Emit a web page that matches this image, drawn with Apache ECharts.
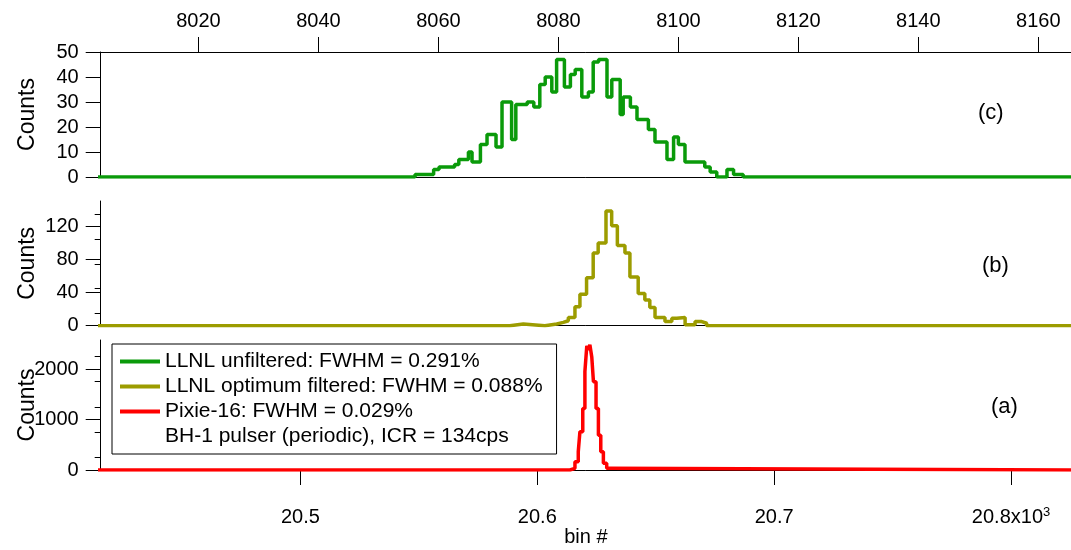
<!DOCTYPE html>
<html>
<head>
<meta charset="utf-8">
<script src="https://cdn.jsdelivr.net/npm/echarts@6/dist/echarts.min.js"></script>
<style>
html,body{margin:0;padding:0;background:#fff;}
#chart{width:1071px;height:550px;}
</style>
</head>
<body>
<div id="chart"></div>
<script>
// ---- data (x = left edge of each step) ----
// (c) LLNL unfiltered, top axis (bin #)
var binC = [8000, 8056.1, 8059.2, 8060.1, 8062.7, 8063.4, 8065.0, 8065.6, 8067.0, 8068.1, 8069.6, 8070.6, 8072.2, 8072.9,
    8074.8, 8075.9, 8076.9, 8077.8, 8078.9, 8079.7, 8081.0, 8082.0, 8082.8, 8083.9, 8085.0, 8085.8, 8086.7, 8088.1,
    8088.9, 8090.3, 8090.8, 8092.0, 8093.1, 8095.0, 8096.1, 8098.1, 8099.2, 8100.0, 8101.1, 8104.4, 8105.3, 8106.4,
    8108.1, 8109.2, 8110.8, 8170];
var countsC = [0, 1, 3, 4, 5, 7, 10, 6, 13, 17, 12, 30, 15, 29,
    30, 28, 37, 40, 34, 47, 36, 41, 43, 32, 34, 46, 47, 32,
    39, 25, 32, 28, 23, 19, 14, 7, 16, 13, 6, 4, 2, 0,
    3, 1, 0, 0];

// (b) LLNL optimum filtered, bottom axis
var binB = [20400, 20588.4, 20594.1, 20603.2, 20608.2, 20611.0, 20613.1, 20615.9, 20618.0, 20620.8, 20623.6, 20625.7,
    20629.0, 20631.4, 20633.8, 20637.0, 20639.1, 20642.6, 20645.4, 20647.5, 20649.7, 20653.9, 20656.8, 20658.9,
    20662.4, 20666.6, 20669.4, 20671.5, 20830];
var countsB = [0, 2, 0, 2, 4, 6, 10, 23, 38, 58, 88, 100,
    139, 121, 97, 88, 59, 39, 31, 22, 10, 5, 9, 10,
    1, 5, 3, 0, 0];

// (a) Pixie-16, bottom axis
var binA = [20400, 20613.8, 20615.9, 20617.3, 20618.0, 20619.2, 20620.1, 20620.9, 20621.6, 20622.2, 20623.0, 20623.7,
    20624.8, 20625.8, 20626.8, 20627.9, 20629.3, 20630.7, 20830];
var countsA = [0, 33, 165, 363, 760, 1220, 1950, 2460, 2380, 2480, 2240, 1750,
    1220, 690, 363, 132, 33, 0, 0];

var topTicks = [8020, 8040, 8060, 8080, 8100, 8120, 8140, 8160];
var bottomTicks = [20500, 20600, 20700, 20800];
var ticksC = [0, 10, 20, 30, 40, 50];
var ticksB = [0, 40, 80, 120];
var ticksA = [0, 1000, 2000];

var names = [
    'LLNL unfiltered: FWHM = 0.291%',
    'LLNL optimum filtered: FWHM = 0.088%',
    'Pixie-16: FWHM = 0.029%',
    'BH-1 pulser (periodic), ICR = 134cps'
];

function pairs(xs, ys) {
    var out = [];
    for (var i = 0; i < xs.length; i++) out.push([xs[i], ys[i]]);
    return out;
}

var FONT = 'Arial, "Liberation Sans", sans-serif';
var BLACK = '#000';

function plain(v) { return String(v); }

function yAxisFor(grid, max, ticks, minor) {
    return {
        type: 'value', gridIndex: grid, min: 0, max: max,
        name: 'Counts', nameLocation: 'middle', nameRotate: 90, nameGap: 62, nameMoveOverlap: false,
        nameTextStyle: {color: BLACK, fontSize: 23, fontFamily: FONT},
        axisLine: {show: true, lineStyle: {color: BLACK, width: 1}},
        axisTick: {show: true, length: 15, customValues: ticks, lineStyle: {color: BLACK}},
        minorTick: {show: minor, splitNumber: 2, length: 6, lineStyle: {color: BLACK}},
        axisLabel: {customValues: ticks, color: BLACK, fontSize: 20, fontFamily: FONT, margin: 22, formatter: plain},
        splitLine: {show: false},
        minorSplitLine: {show: false}
    };
}

var topMin = 8003.7, topMax = 8165.45;
var botMin = 20415.7, botMax = 20825.3;

var myChart = echarts.init(document.getElementById('chart'));
var option = {
    animation: false,
    backgroundColor: '#fff',
    grid: [
        {left: 100.7, top: 52, width: 970.3, height: 125, containLabel: false, outerBoundsMode: 'none'},
        {left: 100.7, top: 201, width: 970.3, height: 124.7, containLabel: false, outerBoundsMode: 'none'},
        {left: 100.7, top: 340, width: 970.3, height: 130, containLabel: false, outerBoundsMode: 'none'}
    ],
    xAxis: [
        {   // top axis, panel (c)
            type: 'value', gridIndex: 0, position: 'top', min: topMin, max: topMax,
            axisLine: {show: true, onZero: false, lineStyle: {color: BLACK}},
            axisTick: {show: true, length: 15, customValues: topTicks, lineStyle: {color: BLACK}},
            axisLabel: {customValues: topTicks, color: BLACK, fontSize: 20, fontFamily: FONT, margin: 21, formatter: plain},
            splitLine: {show: false}
        },
        {   // zero line, panel (c)
            type: 'value', gridIndex: 0, position: 'bottom', min: topMin, max: topMax,
            axisLine: {show: true, onZero: false, lineStyle: {color: BLACK}},
            axisTick: {show: false}, axisLabel: {show: false}, splitLine: {show: false}
        },
        {   // zero line, panel (b)
            type: 'value', gridIndex: 1, position: 'bottom', min: botMin, max: botMax,
            axisLine: {show: true, onZero: false, lineStyle: {color: BLACK}},
            axisTick: {show: false}, axisLabel: {show: false}, splitLine: {show: false}
        },
        {   // bottom axis, panel (a)
            type: 'value', gridIndex: 2, position: 'bottom', min: botMin, max: botMax,
            name: 'bin #', nameLocation: 'middle', nameGap: 57, nameMoveOverlap: false,
            nameTextStyle: {color: BLACK, fontSize: 20, fontFamily: FONT},
            axisLine: {show: true, onZero: false, lineStyle: {color: BLACK}},
            axisTick: {show: true, length: 15, customValues: bottomTicks, lineStyle: {color: BLACK}},
            axisLabel: {
                customValues: bottomTicks, color: BLACK, fontSize: 20, fontFamily: FONT, margin: 36,
                formatter: function (v) {
                    if (v === 20800) return '{n|20.8x10}{s|3}';
                    return '{n|' + (v / 1000).toFixed(1) + '}';
                },
                rich: {
                    n: {fontSize: 20, fontFamily: FONT, color: BLACK, lineHeight: 22},
                    s: {fontSize: 13, fontFamily: FONT, color: BLACK, verticalAlign: 'top', lineHeight: 22, padding: [0, 0, 10, 0]}
                }
            },
            splitLine: {show: false}
        }
    ],
    yAxis: [
        yAxisFor(0, 50, ticksC, false),
        yAxisFor(1, 151, ticksB, true),
        yAxisFor(2, 2575, ticksA, true)
    ],
    legend: {
        left: 112, top: 344, orient: 'vertical',
        padding: [7, 14, 7, 8],
        itemWidth: 40, itemHeight: 4, itemGap: 4,
        borderColor: BLACK, borderWidth: 1, borderRadius: 0,
        backgroundColor: '#fff',
        selectedMode: false,
        textStyle: {color: BLACK, fontSize: 21, fontFamily: FONT, lineHeight: 20},
        data: [
            {name: names[0], icon: 'rect'}, {name: names[1], icon: 'rect'}, {name: names[2], icon: 'rect'},
            {name: names[3], icon: 'none'}
        ]
    },
    graphic: [
        {type: 'text', left: 978, top: 102, style: {text: '(c)', fontSize: 22, fontFamily: FONT, fill: BLACK}},
        {type: 'text', left: 982, top: 255, style: {text: '(b)', fontSize: 22, fontFamily: FONT, fill: BLACK}},
        {type: 'text', left: 991, top: 396, style: {text: '(a)', fontSize: 22, fontFamily: FONT, fill: BLACK}}
    ],
    series: [
        {
            name: names[0], type: 'line', xAxisIndex: 0, yAxisIndex: 0, step: 'end',
            showSymbol: false, symbol: 'none', color: '#0a9a0a',
            lineStyle: {width: 3.5, color: '#0a9a0a'},
            data: pairs(binC, countsC)
        },
        {
            name: names[1], type: 'line', xAxisIndex: 2, yAxisIndex: 1, step: 'end',
            showSymbol: false, symbol: 'none', color: '#9c9c00',
            lineStyle: {width: 3.5, color: '#9c9c00'},
            data: pairs(binB, countsB)
        },
        {
            name: names[2], type: 'line', xAxisIndex: 3, yAxisIndex: 2, step: 'end',
            showSymbol: false, symbol: 'none', color: '#ff0000',
            lineStyle: {width: 3.5, color: '#ff0000'},
            data: pairs(binA, countsA)
        },
        {
            name: names[3], type: 'line', xAxisIndex: 3, yAxisIndex: 2,
            showSymbol: false, symbol: 'none', data: []
        }
    ]
};
myChart.setOption(option);
</script>
</body>
</html>
